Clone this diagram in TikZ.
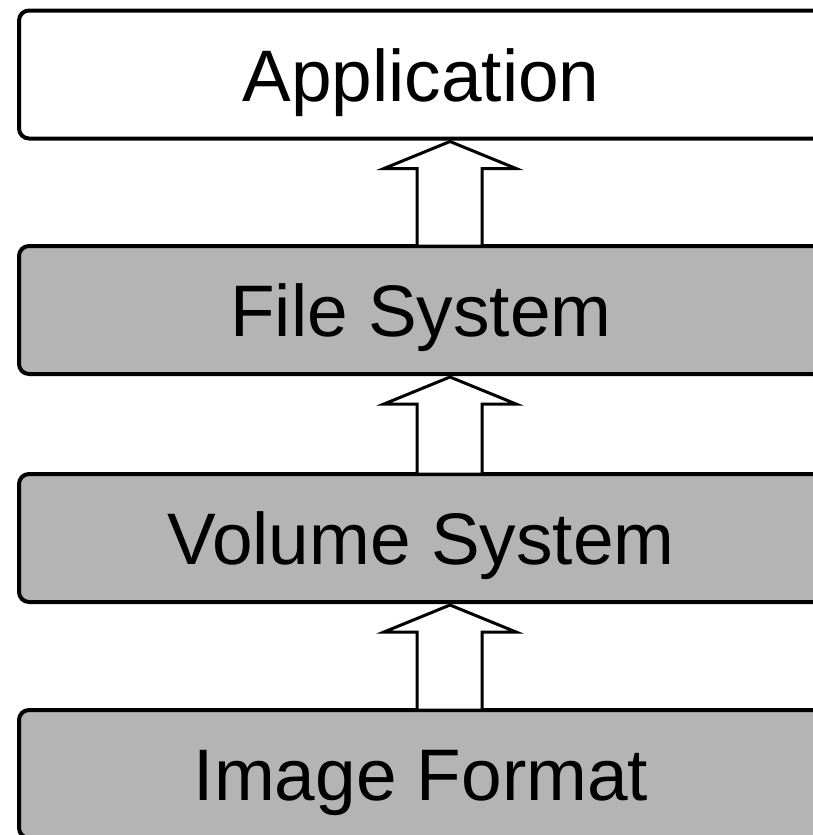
\documentclass[tikz,border=0pt]{standalone}
\usepackage{fontspec}
\setmainfont{Liberation Sans}
\usepackage{tikz}
\usetikzlibrary{calc}

\begin{document}
\begin{tikzpicture}[x=0.5pt,y=-0.5pt,
    layer/.style={draw,line width=2pt,rounded corners=5pt,outer sep=0pt,inner sep=0pt,
        minimum width=402pt,minimum height=64pt,text height=26.5pt,text depth=0pt,
        font=\fontsize{36.5pt}{40pt}\selectfont},
    shaded/.style={layer,fill=boxgray},
    blockarrow/.style={draw,fill=white,line width=1.5pt,line join=miter}]
    \definecolor{boxgray}{RGB}{180,180,180}
    \clip (0,0) rectangle (813,835);
    \node[layer] (app) at (421,74.5) {Application};
    \node[shaded] (fs) at (421,310) {File System};
    \node[shaded] (vs) at (421,538) {Volume System};
    \node[shaded] (img) at (421,774) {Image Format};
    \foreach \lo/\hi in {fs/app,vs/fs,img/vs}
        \draw[blockarrow] ($(\lo.north)+(-4,0)$) -- ($(\hi.south)+(-4,30)$)
            -- ($(\hi.south)+(-37,30)$) -- ($(\hi.south)+(29,3)$)
            -- ($(\hi.south)+(95,30)$) -- ($(\hi.south)+(61,30)$)
            -- ($(\lo.north)+(61,0)$) -- cycle;
\end{tikzpicture}
\end{document}
